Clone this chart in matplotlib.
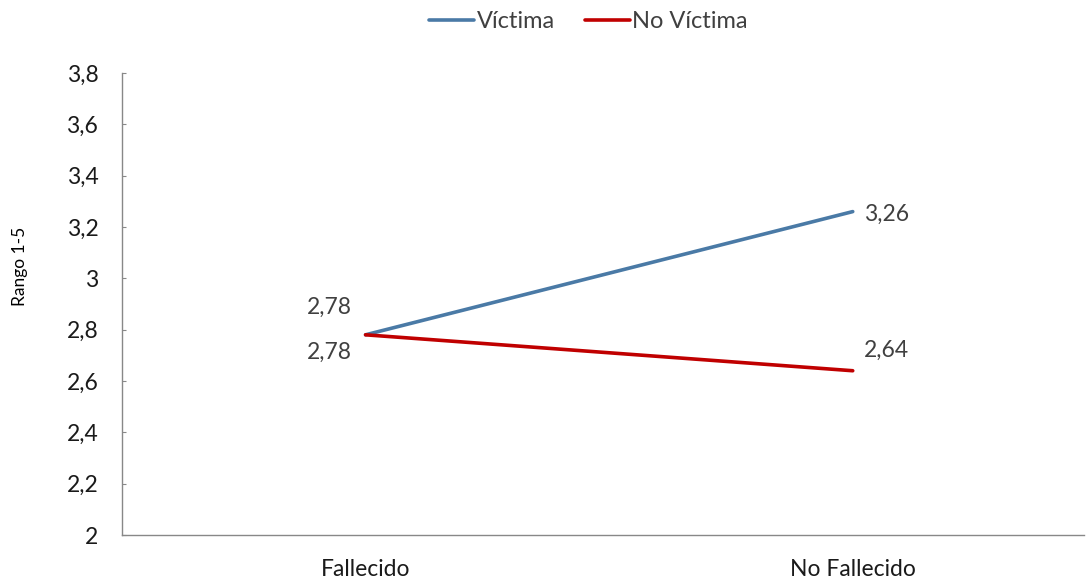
import matplotlib.pyplot as plt

categories = ['Fallecido', 'No Fallecido']
victima = [2.78, 3.26]
no_victima = [2.78, 2.64]
yticks = [2, 2.2, 2.4, 2.6, 2.8, 3, 3.2, 3.4, 3.6, 3.8]

plt.rcParams['font.family'] = ['Lato', 'DejaVu Sans']

blue = '#4a7aa6'
red = '#c00000'
lab_col = '#404040'
fs = 16.5

fig = plt.figure(figsize=(10.86, 5.83), dpi=100)
ax = fig.add_axes([0.1123, 0.0823, 0.886, 0.7925])

x = range(len(categories))
ax.plot(x, victima, color=blue, lw=2.6, solid_capstyle='round', label='Víctima')
ax.plot(x, no_victima, color=red, lw=2.6, solid_capstyle='round', label='No Víctima')

fmt = lambda v: ('%g' % v).replace('.', ',')

# data labels
ax.annotate(fmt(victima[0]), (0, victima[0]), xytext=(-9.5, 20), textcoords='offset points',
            ha='right', va='center', fontsize=fs, color=lab_col)
ax.annotate(fmt(no_victima[0]), (0, no_victima[0]), xytext=(-9.5, -12.5), textcoords='offset points',
            ha='right', va='center', fontsize=fs, color=lab_col)
ax.annotate(fmt(victima[1]), (1, victima[1]), xytext=(8, -2), textcoords='offset points',
            ha='left', va='center', fontsize=fs, color=lab_col)
ax.annotate(fmt(no_victima[1]), (1, no_victima[1]), xytext=(8, 14.5), textcoords='offset points',
            ha='left', va='center', fontsize=fs, color=lab_col)

ax.set_xlim(-0.5, 1.475)
ax.set_ylim(2, 3.8)
ax.set_yticks(yticks)
ax.set_yticklabels([fmt(t) for t in yticks])
ax.set_xticks(list(x))
ax.set_xticklabels(categories)
ax.tick_params(axis='y', direction='in', length=3, color='#888888', labelsize=fs,
               labelcolor='#1a1a1a', pad=17)
ax.tick_params(axis='x', length=0, labelsize=fs, labelcolor='#1a1a1a', pad=17)
ax.set_ylabel('Rango 1-5', fontsize=12.5)
ax.yaxis.set_label_coords(-0.098, 0.582)

for s in ['top', 'right']:
    ax.spines[s].set_visible(False)
for s in ['left', 'bottom']:
    ax.spines[s].set_color('#888888')
    ax.spines[s].set_linewidth(1)

fig.legend(loc='center', bbox_to_anchor=(0.542, 0.963), ncol=2, frameon=False,
           fontsize=17, handlelength=1.9, handletextpad=0.1, columnspacing=1.3,
           labelcolor='#404040')

plt.savefig('out.png', dpi=100)
